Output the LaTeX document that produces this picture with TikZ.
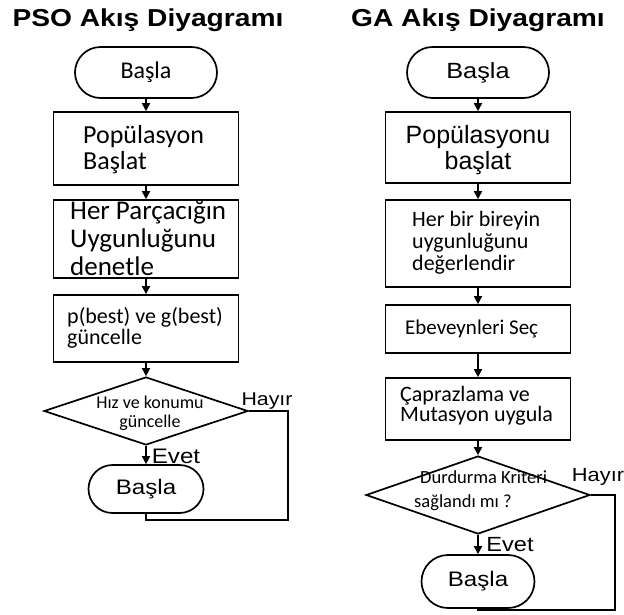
\documentclass[tikz,border=0pt]{standalone}
\usepackage{fontspec}
\setmainfont{Carlito}
\newfontfamily\arialw[FakeStretch=1.15]{Liberation Sans}
\newfontfamily\arial{Liberation Sans}
\usetikzlibrary{arrows.meta,shapes.geometric,shapes.misc}
\newcommand{\fs}[2]{\fontsize{#1}{#2}\selectfont}
\begin{document}
\begin{tikzpicture}[x=1pt,y=-1pt,
  box/.style={draw, line width=1.7pt, rectangle, inner sep=0pt, minimum width=185pt},
  term/.style={draw, rounded rectangle, line width=1.7pt, inner sep=0pt},
  dia/.style={draw, diamond, line width=1.7pt, inner sep=0pt},
  arr/.style={line width=1.7pt, -{Triangle[length=8pt,width=8pt]}},
  lnk/.style={line width=1.7pt},
  txt/.style={inner sep=0pt, align=left, anchor=west},
  lbl/.style={inner sep=0pt}]
\useasboundingbox (0,0) rectangle (624,614);
% ---------------- PSO ----------------
\node[lbl, font=\arialw\bfseries\fs{24.5}{24.5}] (t1) at (148,20) {PSO Akış Diyagramı};
\node[term, minimum width=142pt, minimum height=51pt, font=\fs{24}{24}] (s1) at (146,72.5) {Başla};
\node[box, minimum height=73pt] (b1) at (146,148.5) {};
\node[txt, font=\fs{26}{26}] (b1t) at (83,150) {Popülasyon\\Başlat};
\node[box, minimum height=78pt] (b2) at (146,239) {};
\node[txt, font=\fs{27}{28}] (b2t) at (70,238) {Her Parçacığın\\Uygunluğunu\\denetle};
\node[box, minimum height=67pt] (b3) at (146,328.5) {};
\node[txt, font=\fs{22}{21}] (b3t) at (67,328) {p(best) ve g(best)\\güncelle};
\node[dia, minimum width=204pt, minimum height=68pt] (d1) at (146,411) {};
\node[lbl, align=center, font=\fs{18}{19}] (d1t) at (150,413) {Hız ve konumu\\güncelle};
\node[term, minimum width=115pt, minimum height=48pt, font=\arialw\fs{21}{21}] (e1) at (146,489) {Başla};
\node[lbl, font=\arialw\fs{18.5}{18.5}] (h1) at (267,401) {Hayır};
\node[lbl, font=\arialw\fs{21}{21}] (v1) at (176,456) {Evet};
\coordinate (k1) at (288,520);
\draw[arr] (s1.south) -- (b1.north);
\draw[arr] (b1.south) -- (b2.north);
\draw[arr] (b2.south) -- (b3.north);
\draw[arr] (b3.south) -- (d1.north);
\draw[arr] (d1.south) -- (e1.north);
\draw[lnk] (d1.east) -| (k1) -| (e1.south);
% ---------------- GA ----------------
\node[lbl, font=\arialw\bfseries\fs{24.5}{24.5}] (t2) at (478,20) {GA Akış Diyagramı};
\node[term, minimum width=142pt, minimum height=51pt, font=\arialw\fs{22}{22}] (s2) at (478,72.5) {Başla};
\node[box, minimum height=71pt] (c1) at (478,147.5) {};
\node[lbl, align=center, font=\arial\fs{25}{26}] (c1t) at (478,150) {Popülasyonu\\başlat};
\node[box, minimum height=87pt] (c2) at (478,243.5) {};
\node[txt, font=\fs{22}{22}] (c2t) at (412,243) {Her bir bireyin\\uygunluğunu\\değerlendir};
\node[box, minimum height=48pt] (c3) at (478,329) {};
\node[txt, font=\fs{21}{21}] (c3t) at (405,329) {Ebeveynleri Seç};
\node[box, minimum height=62pt] (c4) at (478,409) {};
\node[txt, font=\fs{22}{20}] (c4t) at (400,406) {Çaprazlama ve\\Mutasyon uygula};
\node[dia, minimum width=224pt, minimum height=78pt] (d2) at (478,495) {};
\node[txt, font=\fs{18.5}{24}] (d2t) at (414,491) {\hspace{6pt}Durdurma Kriteri\\sağlandı mı ?};
\node[term, minimum width=113pt, minimum height=53pt, font=\arialw\fs{21}{21}] (e2) at (478,581.5) {Başla};
\node[lbl, font=\arialw\fs{19}{19}] (h2) at (598,477) {Hayır};
\node[lbl, font=\arialw\fs{20.5}{20.5}] (v2) at (510,545) {Evet};
\coordinate (k2) at (615,610);
\draw[arr] (s2.south) -- (c1.north);
\draw[arr] (c1.south) -- (c2.north);
\draw[arr] (c2.south) -- (c3.north);
\draw[arr] (c3.south) -- (c4.north);
\draw[arr] (c4.south) -- (d2.north);
\draw[arr] (d2.south) -- (e2.north);
\draw[lnk] (d2.east) -| (k2) -| (e2.south);
\end{tikzpicture}
\end{document}
